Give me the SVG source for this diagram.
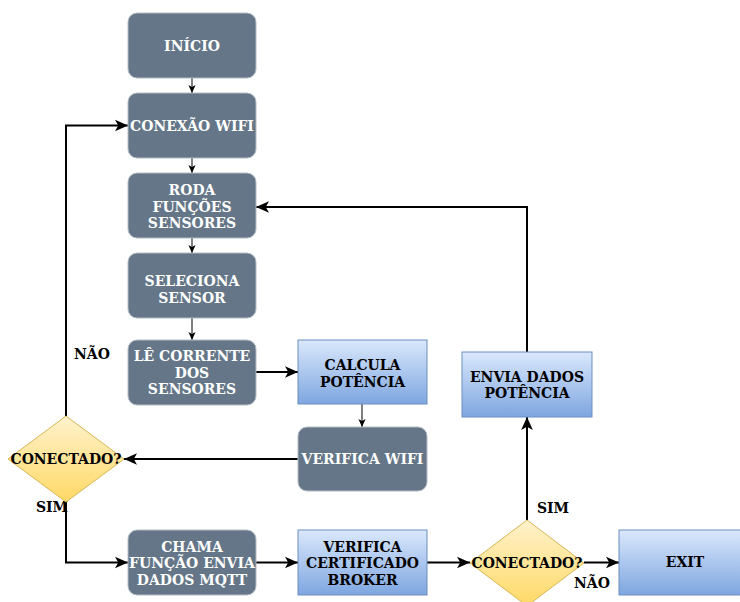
<svg xmlns="http://www.w3.org/2000/svg" width="740" height="602" viewBox="0 0 740 602">
<style>
.dk{fill:#647687;stroke:#b4bcc4;stroke-width:1}
.bl{fill:url(#gb);stroke:#6c8ebf;stroke-width:1}
.dm{fill:url(#gy);stroke:#d6b656;stroke-width:1}
text{font-family:"DejaVu Serif","Liberation Serif",serif;font-weight:bold;font-size:14px;text-anchor:middle}
.w{fill:#ffffff}
.k{fill:#000000}
.c1{fill:none;stroke:#000;stroke-width:1;marker-end:url(#as)}
.c2{fill:none;stroke:#000;stroke-width:2;marker-end:url(#al)}
</style>
<defs>
<linearGradient id="gb" x1="0" y1="0" x2="0" y2="1"><stop offset="0" stop-color="#dae8fc"/><stop offset="1" stop-color="#7ea6e0"/></linearGradient>
<linearGradient id="gy" x1="0" y1="0" x2="0" y2="1"><stop offset="0" stop-color="#fff2cc"/><stop offset="1" stop-color="#ffd966"/></linearGradient>
<marker id="as" markerUnits="userSpaceOnUse" markerWidth="8" markerHeight="8" viewBox="0 0 10 10" refX="10" refY="5" orient="auto"><path d="M0,0.5 L10,5 L0,9.5 L2.5,5 Z" fill="#000"/></marker>
<marker id="al" markerUnits="userSpaceOnUse" markerWidth="13" markerHeight="13" viewBox="0 0 10 10" refX="10" refY="5" orient="auto"><path d="M0,0.5 L10,5 L0,9.5 L2.5,5 Z" fill="#000"/></marker>
</defs>
<rect width="740" height="602" fill="#ffffff"/>
<g id="connectors">
<path class="c1" d="M192,78 L192,93"/>
<path class="c1" d="M192,158 L192,173"/>
<path class="c1" d="M192,238 L192,253"/>
<path class="c1" d="M192,318 L192,340"/>
<path class="c2" d="M256,372 L298,372"/>
<path class="c1" d="M362,404 L362,427"/>
<path class="c2" d="M298,459 L124,459"/>
<path class="c2" d="M66,416 L66,125.5 L128,125.5"/>
<path class="c2" d="M66,502 L66,562.5 L128,562.5"/>
<path class="c2" d="M256,562.5 L298,562.5"/>
<path class="c2" d="M427,562.5 L470,562.5"/>
<path class="c2" d="M584,562.5 L619,562.5"/>
<path class="c2" d="M527,520 L527,417"/>
<path class="c2" d="M527,352 L527,207 L256,207"/>
<text class="k" x="92" y="359">NÃO</text>
<text class="k" x="52" y="512">SIM</text>
<text class="k" x="553" y="512.5">SIM</text>
<text class="k" x="592" y="588">NÃO</text>
</g>
<g id="inicio"><rect class="dk" x="128" y="13" width="128" height="65" rx="9"/><text class="w" x="192" y="51">INÍCIO</text></g>
<g id="conexao"><rect class="dk" x="128" y="93" width="128" height="65" rx="9"/><text class="w" x="192" y="131">CONEXÃO WIFI</text></g>
<g id="roda"><rect class="dk" x="128" y="173" width="128" height="65" rx="9"/><text class="w" x="192" y="195">RODA</text><text class="w" x="192" y="211.5">FUNÇÕES</text><text class="w" x="192" y="228">SENSORES</text></g>
<g id="seleciona"><rect class="dk" x="128" y="253" width="128" height="65" rx="9"/><text class="w" x="192" y="286">SELECIONA</text><text class="w" x="192" y="302.5">SENSOR</text></g>
<g id="le"><rect class="dk" x="128" y="340" width="128" height="65" rx="9"/><text class="w" x="192" y="361">LÊ CORRENTE</text><text class="w" x="192" y="377.5">DOS</text><text class="w" x="192" y="394">SENSORES</text></g>
<g id="calcula"><rect class="bl" x="298" y="340" width="129" height="64"/><text class="k" x="362.5" y="370">CALCULA</text><text class="k" x="362.5" y="386.5">POTÊNCIA</text></g>
<g id="verificawifi"><rect class="dk" x="298" y="427" width="129" height="64" rx="9"/><text class="w" x="362.5" y="464">VERIFICA WIFI</text></g>
<g id="conectado1"><polygon class="dm" points="66,416 124,459 66,502 8,459"/><text class="k" x="66" y="464">CONECTADO?</text></g>
<g id="chama"><rect class="dk" x="128" y="530" width="128" height="65" rx="9"/><text class="w" x="192" y="551.5">CHAMA</text><text class="w" x="192" y="568">FUNÇÃO ENVIA</text><text class="w" x="192" y="585">DADOS MQTT</text></g>
<g id="verificacert"><rect class="bl" x="298" y="530" width="129" height="65"/><text class="k" x="362.5" y="551.5">VERIFICA</text><text class="k" x="362.5" y="568">CERTIFICADO</text><text class="k" x="362.5" y="585">BROKER</text></g>
<g id="conectado2"><polygon class="dm" points="527,520 584,563 527,606 470,563"/><text class="k" x="527" y="567.5">CONECTADO?</text></g>
<g id="envia"><rect class="bl" x="462" y="352" width="130" height="65"/><text class="k" x="527" y="381.5">ENVIA DADOS</text><text class="k" x="527" y="398">POTÊNCIA</text></g>
<g id="exit"><rect class="bl" x="619" y="530" width="131" height="65"/><text class="k" x="685" y="567">EXIT</text></g>
</svg>
